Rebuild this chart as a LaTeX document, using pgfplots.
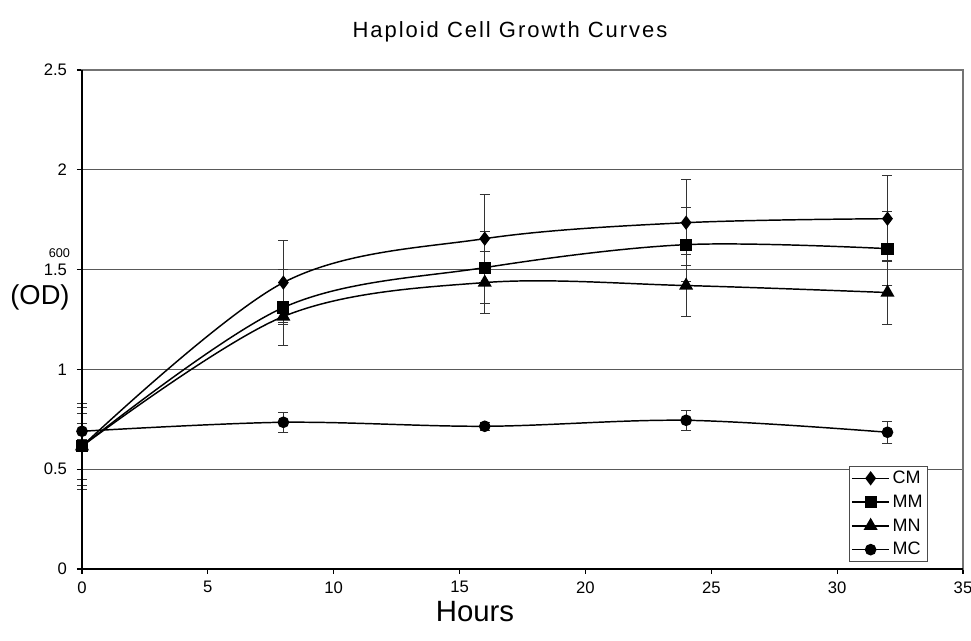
\documentclass[border=0pt]{standalone}
\usepackage{fontspec}
\setmainfont{Liberation Sans}
\newfontfamily\titlefont[LetterSpace=9]{Liberation Sans}
\usepackage{pgfplots}
\pgfplotsset{compat=1.18}

\pgfplotsset{
  ebar/.style={error bars/.cd, y dir=both, y explicit,
    error bar style={line width=0.9pt, black!80},
    error mark options={rotate=90, mark size=3.75pt, line width=0.9pt, black!80}},
  ser/.style={black, line width=1.1pt, smooth, tension=0.55,
    mark options={solid, fill=black}},
}

\begin{document}
\begin{tikzpicture}
% 1px = 0.75pt; axis box 881x499 px, image 971x641 px
\useasboundingbox (-61.5pt,-54pt) rectangle (666.75pt,426.75pt);
\begin{axis}[
  at={(0,0)}, anchor=south west,
  scale only axis,
  width=660.75pt, height=374.25pt,
  xmin=0, xmax=35, ymin=0, ymax=2.5,
  xtick={0,5,...,35},
  ytick={0,0.5,...,2.5},
  ymajorgrids,
  grid style={black!65, line width=0.6pt},
  axis line style={black!55, line width=0.8pt},
  tick align=outside,
  major tick length=3.75pt,
  tick style={black, line width=0.8pt},
  xtick pos=bottom, ytick pos=left,
  tick label style={font=\fontsize{12.5}{14}\selectfont},
  xticklabel style={yshift=-2pt},
  yticklabel style={xshift=-4pt},
  /pgf/number format/assume math mode=true,
  legend cell align=left,
  legend style={at={(0.960,0.014)}, anchor=south east,
    draw=black!70, line width=0.6pt, font=\fontsize{13.5}{15}\selectfont,
    inner sep=1.5pt, row sep=3pt},
  legend image code/.code={\draw[mark repeat=2, mark phase=2, #1, sharp plot]
    plot coordinates {(0pt,0pt) (14pt,0pt) (28pt,0pt)};},
  clip=false,
]

\addplot[ser, mark=diamond*, mark size=4.5pt, ebar] coordinates {
  (0,0.615) +- (0,0.215)
  (8,1.435) +- (0,0.21)
  (16,1.655) +- (0,0.22)
  (24,1.735) +- (0,0.215)
  (32,1.755) +- (0,0.215)
};
\addlegendentry{CM}

\addplot[ser, mark=square*, mark size=4pt, ebar] coordinates {
  (0,0.615) +- (0,0.195)
  (8,1.31) +- (0,0.19)
  (16,1.51) +- (0,0.18)
  (24,1.625) +- (0,0.185)
  (32,1.605) +- (0,0.185)
};
\addlegendentry{MM}

\addplot[ser, mark=triangle*, mark size=5pt, ebar] coordinates {
  (0,0.615) +- (0,0.165)
  (8,1.265) +- (0,0.03)
  (16,1.435) +- (0,0.155)
  (24,1.42) +- (0,0.155)
  (32,1.385) +- (0,0.16)
};
\addlegendentry{MN}

\addplot[ser, mark=*, mark size=3.8pt, ebar] coordinates {
  (0,0.69) +- (0,0.04)
  (8,0.735) +- (0,0.05)
  (16,0.715) +- (0,0.02)
  (24,0.745) +- (0,0.05)
  (32,0.685) +- (0,0.055)
};
\addlegendentry{MC}

\draw[black, line width=0.9pt] (rel axis cs:0,1) -- (rel axis cs:0,0) -- (rel axis cs:1,0);
\end{axis}

\node[font=\titlefont\fontsize{16.5}{18}\selectfont] at (321pt,402.75pt) {Haploid Cell Growth Curves};
\node[font=\fontsize{22}{24}\selectfont] at (294.75pt,-32pt) {Hours};
\node[font=\fontsize{20.5}{24}\selectfont] at (-31.5pt,204pt) {(OD)};
\node[font=\fontsize{9.5}{10}\selectfont] at (-17pt,237pt) {600};
\end{tikzpicture}
\end{document}
